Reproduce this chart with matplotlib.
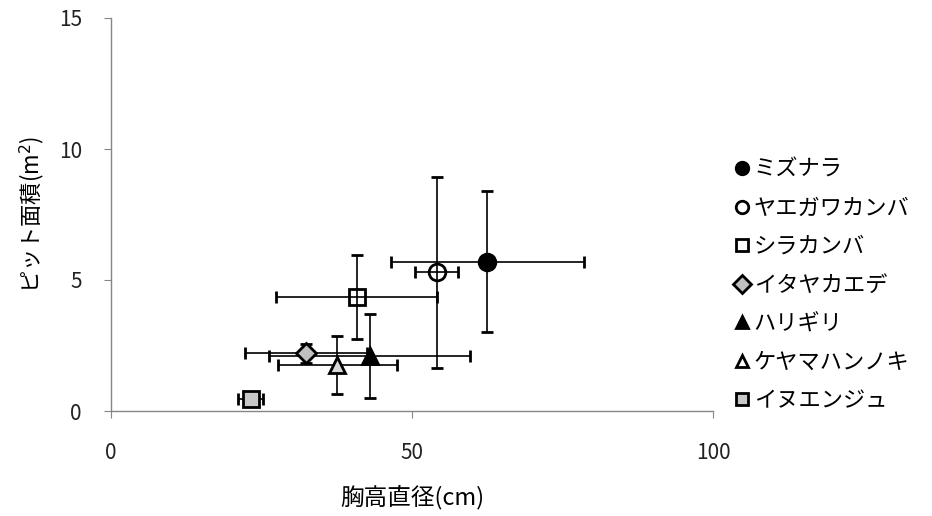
import numpy as np
import matplotlib
matplotlib.use('Agg')
import matplotlib.pyplot as plt
from matplotlib.lines import Line2D

plt.rcParams['font.family'] = ['Noto Sans CJK JP', 'DejaVu Sans']

# species, DBH (cm) and pit area (m2) with error bars
names = ['ミズナラ', 'ヤエガワカンバ', 'シラカンバ', 'イタヤカエデ', 'ハリギリ', 'ケヤマハンノキ', 'イヌエンジュ']
dbh = [62.5, 54.1, 40.8, 32.4, 43.0, 37.6, 23.2]
dbh_err = [16.0, 3.6, 13.4, 10.1, 16.7, 9.9, 2.1]
pit = [5.7, 5.3, 4.35, 2.2, 2.1, 1.75, 0.47]
pit_err = [2.7, 3.65, 1.62, 0.37, 1.6, 1.12, 0.15]

markers = ['o', 'o', 's', 'D', '^', '^', 's']
faces = ['black', 'none', 'none', '#c0c0c0', 'black', '#d9d9d9', '#c8c8c8']
legend_faces = ['black', 'white', 'white', '#c0c0c0', 'black', 'white', '#c8c8c8']
sizes = [12, 12, 12, 10, 12, 12, 12]

fig = plt.figure(figsize=(9.32, 5.16), dpi=100)
ax = fig.add_axes([111/932, 1-411/516, (713-111)/932, (411-18)/516])

for i in range(len(names)):
    ax.errorbar(dbh[i], pit[i], xerr=dbh_err[i], yerr=pit_err[i],
                fmt=markers[i], ms=sizes[i], mfc=faces[i], mec='black', mew=2,
                ecolor='black', elinewidth=1.2, capsize=4, capthick=1.2)

ax.set_xlim(0, 100)
ax.set_ylim(0, 15)
ax.set_xticks([0, 50, 100])
ax.set_yticks([0, 5, 10, 15])
for s in ['top', 'right']:
    ax.spines[s].set_visible(False)
for s in ['left', 'bottom']:
    ax.spines[s].set_color('#868686')
    ax.spines[s].set_linewidth(1)
ax.tick_params(direction='out', length=5, color='#868686', labelsize=15, labelcolor='#222222')
ax.tick_params(axis='x', pad=17)
ax.tick_params(axis='y', pad=16)

ax.set_xlabel('胸高直径(cm)', fontsize=17, va='center')
ax.xaxis.set_label_coords(0.5, (411-497)/393)
ax.set_ylabel('ピット面積(m$^2$)', fontsize=16, va='center')
ax.yaxis.set_label_coords((32-111)/602, 0.5)

handles = [Line2D([], [], ls='none', marker=markers[i], ms=9, mfc=legend_faces[i],
                  mec='black', mew=2) for i in range(len(names))]
fig.legend(handles, names, loc='upper left', bbox_to_anchor=(726/932, 1-149/516),
           frameon=False, fontsize=16, handlelength=0.6, handletextpad=0.25,
           labelspacing=0.7, borderaxespad=0)

fig.savefig('out.png', dpi=100)
